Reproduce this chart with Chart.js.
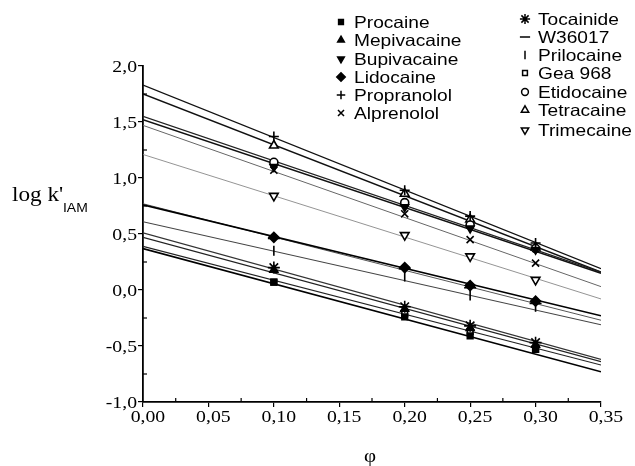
<!DOCTYPE html>
<html>
<head>
<meta charset="utf-8">
<script src="https://cdn.jsdelivr.net/npm/chart.js@4/dist/chart.umd.min.js"></script>
<style>
    body { margin: 0; background: #fff; }
    canvas { display: block; }
</style>
</head>
<body>
<canvas id="chart" width="635" height="466"></canvas>
<script>
// ========================================================================
// Data
// ========================================================================

const phi = [0.10, 0.20, 0.25, 0.30];
const xTicks = [0, 0.05, 0.10, 0.15, 0.20, 0.25, 0.30, 0.35];
const yTicks = [-1, -0.5, 0, 0.5, 1, 1.5, 2];
const compounds = ['Procaine', 'Mepivacaine', 'Bupivacaine', 'Lidocaine', 'Propranolol', 'Alprenolol',
    'Tocainide', 'W36017', 'Prilocaine', 'Gea 968', 'Etidocaine', 'Tetracaine', 'Trimecaine'];

const procaine    = [0.07, -0.24, -0.41, -0.53];
const mepivacaine = [0.18, -0.17, -0.34, -0.49];
const bupivacaine = [1.10, 0.74, 0.55, 0.36];
const lidocaine   = [0.47, 0.20, 0.04, -0.10];
const propranolol = [1.37, 0.89, 0.66, 0.42];
const alprenolol  = [1.07, 0.68, 0.45, 0.24];
const tocainide   = [0.20, -0.15, -0.32, -0.47];
const w36017      = [0.46, 0.19, 0.02, -0.12];
const prilocaine  = [0.35, 0.12, -0.05, -0.15];
const gea968      = [0.07, -0.21, -0.37, -0.53];
const etidocaine  = [1.14, 0.78, 0.58, 0.37];
const tetracaine  = [1.29, 0.86, 0.63, 0.38];
const trimecaine  = [0.84, 0.49, 0.30, 0.09];

// regression lines: value at phi = 0 and at phi = 0.35
const fitStart = [0.37, 0.47, 1.52, 0.76, 1.83, 1.47, 0.51, 0.77, 0.61, 0.39, 1.55, 1.75, 1.21];
const fitEnd   = [-0.73, -0.64, 0.15, -0.23, 0.19, 0.03, -0.62, -0.27, -0.31, -0.67, 0.16, 0.16, -0.08];

const allValues = [procaine, mepivacaine, bupivacaine, lidocaine, propranolol, alprenolol,
    tocainide, w36017, prilocaine, gea968, etidocaine, tetracaine, trimecaine];

// ========================================================================
// Marker / line styles
// ========================================================================

const markers = [
    { style: 'rect', rot: 0, fill: true, r: 4 },
    { style: 'triangle', rot: 0, fill: true, r: 4.5 },
    { style: 'triangle', rot: 180, fill: true, r: 4.5 },
    { style: 'rectRot', rot: 0, fill: true, r: 5 },
    { style: 'cross', rot: 0, fill: true, r: 5 },
    { style: 'crossRot', rot: 0, fill: true, r: 5 },
    { style: 'star', rot: 0, fill: true, r: 6 },
    { style: 'line', rot: 0, fill: true, r: 6 },
    { style: 'line', rot: 90, fill: true, r: 5 },
    { style: 'rect', rot: 0, fill: false, r: 4 },
    { style: 'circle', rot: 0, fill: false, r: 4 },
    { style: 'triangle', rot: 0, fill: false, r: 5 },
    { style: 'triangle', rot: 180, fill: false, r: 5 }
];
const lineColors = ['#000', '#222', '#111', '#000', '#111', '#666', '#333', '#555', '#444',
    '#222', '#222', '#111', '#888'];
const lineWidths = [1.6, 1.2, 1.5, 1.6, 1.4, 1.0, 1.1, 1.0, 1.1, 1.2, 1.3, 1.5, 0.9];

const legendSlots = [
    [341, 22], [341, 40], [341, 59], [341, 77], [341, 95], [341, 113],
    [525, 19], [525, 37], [525, 55], [525, 73], [525, 92], [525, 110], [525, 130]
];

// the scanned figure is stretched sideways a little
const STRETCH = 1.16;
const comma = (v, d) => v.toFixed(d).replace('.', ',');

function stretchedText(ctx, text, x, y, align) {
    const w = ctx.measureText(text).width * STRETCH;
    let left = x;
    if (align === 'right') left = x - w;
    if (align === 'center') left = x - w / 2;
    ctx.save();
    ctx.translate(left, y);
    ctx.scale(STRETCH, 1);
    ctx.textAlign = 'left';
    ctx.fillText(text, 0, 0);
    ctx.restore();
}

// ========================================================================
// Datasets
// ========================================================================

const datasets = [];
compounds.forEach((name, i) => {
    datasets.push({
        label: name + ' fit',
        data: [{ x: 0, y: fitStart[i] }, { x: 0.35, y: fitEnd[i] }],
        showLine: true,
        borderColor: lineColors[i],
        borderWidth: lineWidths[i],
        pointRadius: 0,
        order: 2
    });
    const m = markers[i];
    datasets.push({
        label: name,
        data: phi.map((x, j) => ({ x, y: allValues[i][j] })),
        showLine: false,
        pointStyle: m.style,
        rotation: m.rot,
        pointRadius: m.r,
        pointBorderWidth: 1.6,
        pointBackgroundColor: m.fill ? '#000' : '#fff',
        pointBorderColor: '#000',
        order: 1
    });
});

// ========================================================================
// Extras: tick labels, minor ticks, axis titles, legend
// ========================================================================

const extras = {
    id: 'extras',
    afterDraw(chart) {
        const ctx = chart.ctx;
        const xs = chart.scales.x, ys = chart.scales.y;
        const area = chart.chartArea;
        ctx.save();
        ctx.strokeStyle = '#000';
        ctx.lineWidth = 1.2;

        // minor ticks (inside)
        for (let v = 0.025; v < 0.35; v += 0.05) {
            const px = xs.getPixelForValue(v);
            ctx.beginPath();
            ctx.moveTo(px, area.bottom);
            ctx.lineTo(px, area.bottom - 4);
            ctx.stroke();
        }
        for (let v = -0.75; v < 2; v += 0.5) {
            const py = ys.getPixelForValue(v);
            ctx.beginPath();
            ctx.moveTo(area.left, py);
            ctx.lineTo(area.left + 4, py);
            ctx.stroke();
        }

        // tick labels, serif, decimal comma
        ctx.fillStyle = '#000';
        ctx.font = '17px "Liberation Serif", serif';
        ctx.textBaseline = 'middle';
        yTicks.forEach(v => {
            stretchedText(ctx, comma(v, 1), area.left - 6, ys.getPixelForValue(v) + 2, 'right');
        });
        const zeroW = ctx.measureText('0').width * STRETCH;
        const commaW = ctx.measureText(',').width * STRETCH;
        xTicks.forEach(v => {
            // the comma sits right under the tick
            const px = xs.getPixelForValue(v);
            stretchedText(ctx, comma(v, 2), px - zeroW - commaW / 2, area.bottom + 16, 'left');
        });

        // axis titles
        ctx.textBaseline = 'alphabetic';
        ctx.font = '20px "Liberation Serif", serif';
        stretchedText(ctx, "log k'", 12, 201, 'left');
        ctx.font = '12px "Liberation Sans", Arial, sans-serif';
        stretchedText(ctx, 'IAM', 63, 212, 'left');
        ctx.font = '18px "Liberation Serif", serif';
        stretchedText(ctx, 'φ', 370, 462, 'center');

        // legend
        ctx.font = '16.5px "Liberation Sans", Arial, sans-serif';
        ctx.textBaseline = 'middle';
        compounds.forEach((name, i) => {
            const [lx, ly] = legendSlots[i];
            const m = markers[i];
            ctx.fillStyle = m.fill ? '#000' : '#fff';
            ctx.strokeStyle = '#000';
            ctx.lineWidth = 1.5;
            Chart.helpers.drawPoint(ctx, {
                pointStyle: m.style, rotation: m.rot, radius: m.r * 0.85, borderWidth: 1.5
            }, lx, ly);
            ctx.fillStyle = '#000';
            stretchedText(ctx, name, lx + 13, ly + 1, 'left');
        });
        ctx.restore();
    }
};

// ========================================================================
// Chart
// ========================================================================

new Chart(document.getElementById('chart'), {
    type: 'scatter',
    data: { datasets },
    options: {
        responsive: false,
        animation: false,
        layout: { padding: { left: 0, right: 34, top: 66, bottom: 0 } },
        scales: {
            x: {
                type: 'linear',
                min: 0,
                max: 0.35,
                afterFit(scale) { scale.height = 64; },
                border: { display: true, color: '#000', width: 1.8 },
                grid: { drawOnChartArea: false, color: '#000', tickLength: 5, lineWidth: 1.2 },
                ticks: { stepSize: 0.05, display: false }
            },
            y: {
                min: -1,
                max: 2,
                afterFit(scale) { scale.width = 143; },
                border: { display: true, color: '#000', width: 1.8 },
                grid: { drawOnChartArea: false, color: '#000', tickLength: 5, lineWidth: 1.2 },
                ticks: { stepSize: 0.5, display: false }
            }
        },
        plugins: {
            legend: { display: false },
            tooltip: { enabled: false }
        }
    },
    plugins: [extras]
});
</script>
</body>
</html>
